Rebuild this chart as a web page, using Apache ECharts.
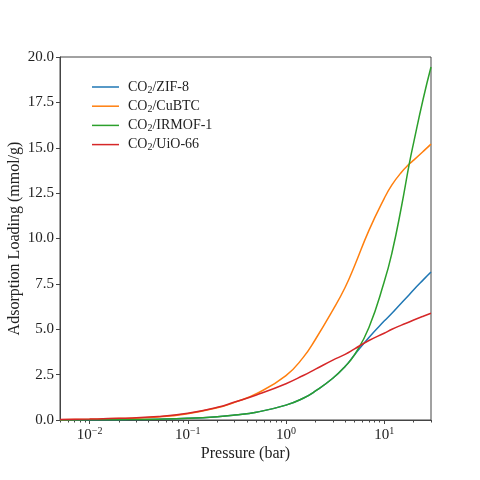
<!DOCTYPE html>
<html lang="en">
<head>
    <meta charset="UTF-8">
    <title>CO2 adsorption isotherms</title>
    <style>
        html, body { margin: 0; padding: 0; background: #fff; }
        #chart { width: 480px; height: 480px; }
    </style>
</head>
<body>
<div id="chart"></div>
<script type="text/javascript" src="https://cdn.jsdelivr.net/npm/echarts@6/dist/echarts.min.js"></script>
<script type="text/javascript">
    // pressures (bar) and loadings (mmol/g)
    var pressure = [0.005, 0.01, 0.02, 0.05, 0.1, 0.2, 0.3, 0.5, 1, 1.5, 2, 3, 4, 5, 7, 10, 12, 15, 18, 20, 25, 30];
    var zif8   = [0.005, 0.009, 0.018, 0.045, 0.09, 0.18, 0.27, 0.43, 0.82, 1.2, 1.6, 2.3, 2.95, 3.6, 4.55, 5.45, 5.88, 6.45, 6.9, 7.18, 7.72, 8.15];
    var cubtc  = [0.02, 0.04, 0.08, 0.17, 0.35, 0.67, 0.97, 1.45, 2.45, 3.45, 4.45, 6.05, 7.3, 8.5, 10.45, 12.2, 12.95, 13.65, 14.1, 14.32, 14.8, 15.2];
    var irmof1 = [0.005, 0.009, 0.018, 0.045, 0.09, 0.18, 0.27, 0.43, 0.82, 1.2, 1.6, 2.3, 2.95, 3.6, 5.1, 7.6, 9.2, 11.75, 14.1, 15.3, 17.7, 19.45];
    var uio66  = [0.03, 0.05, 0.09, 0.19, 0.37, 0.7, 0.99, 1.38, 2.0, 2.45, 2.8, 3.3, 3.62, 3.92, 4.38, 4.78, 5.0, 5.23, 5.4, 5.51, 5.72, 5.88];

    var names = ['CO2/ZIF-8', 'CO2/CuBTC', 'CO2/IRMOF-1', 'CO2/UiO-66'];
    var values = [zif8, cubtc, irmof1, uio66];
    var colors = ['#1f77b4', '#ff7f0e', '#2ca02c', '#d62728'];

    var xMajor = [0.01, 0.1, 1, 10];
    var xMinor = [];
    for (var e = -3; e <= 1; e++) {
        for (var m = 2; m <= 9; m++) {
            var v = m * Math.pow(10, e);
            if (v >= 0.005 && v <= 30) xMinor.push(+v.toPrecision(3));
        }
    }

    var serif = ['Liberation Serif', 'DejaVu Serif', 'serif'];
    var textColor = '#222';
    var frameColor = '#444';

    var series = names.map(function (name, i) {
        return {
            name: name,
            type: 'line',
            smooth: 0.5,
            symbol: 'none',
            lineStyle: { width: 1.5, color: colors[i] },
            itemStyle: { color: colors[i] },
            data: pressure.map(function (p, k) { return [p, values[i][k]]; })
        };
    });

    var chart = echarts.init(document.getElementById('chart'), null, { renderer: 'canvas' });
    chart.setOption({
        animation: false,
        grid: {
            left: 60, right: 49, top: 57, bottom: 60,
            outerBoundsMode: 'none', containLabel: false,
            show: true, borderColor: frameColor, borderWidth: 1
        },
        legend: {
            left: 92, top: 79, padding: 0,
            orient: 'vertical',
            icon: 'rect',
            itemWidth: 27, itemHeight: 1.5, itemGap: 3.2,
            data: names,
            formatter: function (name) {
                return '{c|CO}{s|2}{a|' + name.slice(3) + '}';
            },
            textStyle: {
                color: textColor,
                rich: {
                    c: { fontFamily: serif, fontSize: 14, lineHeight: 16, color: textColor, padding: [0, 0, 0, 4] },
                    a: { fontFamily: serif, fontSize: 14, lineHeight: 16, color: textColor },
                    s: { fontFamily: serif, fontSize: 10, lineHeight: 10, color: textColor, padding: [6, 0, 0, 0] }
                }
            }
        },
        xAxis: [{
            type: 'log', logBase: 10, min: 0.005, max: 30,
            name: 'Pressure (bar)', nameLocation: 'middle', nameGap: 26, nameMoveOverlap: false,
            nameTextStyle: { fontFamily: serif, fontSize: 16, color: textColor },
            axisLine: { show: true, lineStyle: { color: frameColor } },
            axisTick: { show: true, length: 4, customValues: xMajor, lineStyle: { color: frameColor, width: 1 } },
            axisLabel: {
                customValues: xMajor, margin: 6,
                formatter: function (v) {
                    var ex = Math.round(Math.log(v) / Math.LN10);
                    return '{b|10}{e|' + (ex < 0 ? '\u2212' + (-ex) : ex) + '}';
                },
                rich: {
                    b: { fontFamily: serif, fontSize: 15, color: textColor },
                    e: { fontFamily: serif, fontSize: 10, color: textColor, padding: [0, 0, 8, 0] }
                }
            },
            splitLine: { show: false }
        }, {
            type: 'log', logBase: 10, min: 0.005, max: 30, position: 'bottom',
            axisLine: { show: false },
            axisTick: { show: true, length: 2.5, customValues: xMinor, lineStyle: { color: frameColor, width: 1 } },
            axisLabel: { show: false },
            splitLine: { show: false }
        }],
        yAxis: {
            type: 'value', min: 0, max: 20, interval: 2.5,
            name: 'Adsorption Loading (mmol/g)', nameLocation: 'middle', nameGap: 37, nameMoveOverlap: false,
            nameTextStyle: { fontFamily: serif, fontSize: 16, color: textColor },
            axisLine: { show: true, lineStyle: { color: frameColor } },
            axisTick: { show: true, length: 4, lineStyle: { color: frameColor } },
            axisLabel: {
                fontFamily: serif, fontSize: 15, color: textColor, margin: 6,
                formatter: function (v) { return v.toFixed(1); }
            },
            splitLine: { show: false }
        },
        series: series
    });
</script>
</body>
</html>
